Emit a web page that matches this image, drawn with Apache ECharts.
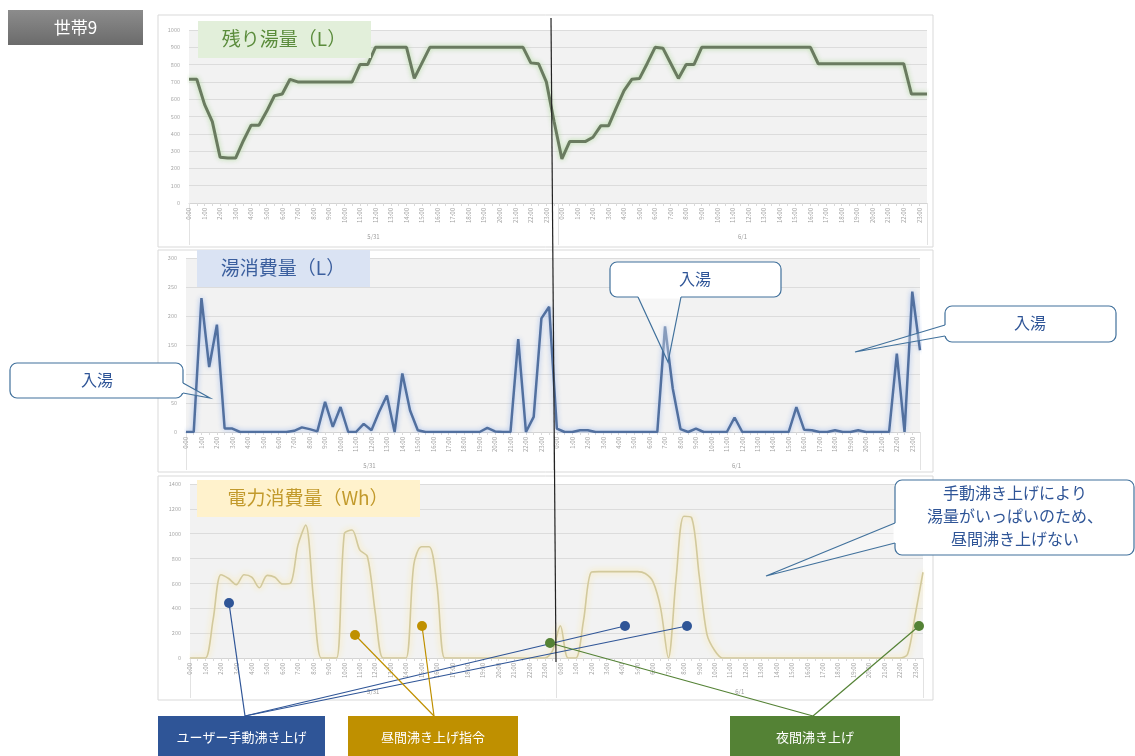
<!DOCTYPE html>
<html><head><meta charset="utf-8">
<script src="https://cdn.jsdelivr.net/npm/echarts@6/dist/echarts.min.js"></script>
<style>html,body{margin:0;padding:0;background:#fff}#c{width:1135px;height:756px}</style>
</head><body><div id="c"></div>
<script>
// ---- data ----
const times = ['0:00','0:30','1:00','1:30','2:00','2:30','3:00','3:30','4:00','4:30','5:00','5:30',
  '6:00','6:30','7:00','7:30','8:00','8:30','9:00','9:30','10:00','10:30','11:00','11:30',
  '12:00','12:30','13:00','13:30','14:00','14:30','15:00','15:30','16:00','16:30','17:00','17:30',
  '18:00','18:30','19:00','19:30','20:00','20:30','21:00','21:30','22:00','22:30','23:00','23:30'];
const days = ['5/31', '6/1'];
const categories = times.concat(times);

const remainingHotWater = [715,715,570,470,265,260,260,360,450,450,
  530,620,630,715,700,700,700,700,700,700,
  700,700,800,800,900,900,900,900,900,720,
  810,900,900,900,900,900,900,900,900,900,
  900,900,900,900,810,805,700,470,255,355,
  355,355,380,446,446,550,650,715,720,808,
  900,895,808,720,800,800,900,900,900,900,
  900,900,900,900,900,900,900,900,900,900,
  900,805,805,805,805,805,805,805,805,805,
  805,805,805,630,630,630];

const hotWaterUse = [0,0,231,112,185,6,6,0,0,0,
  0,0,0,0,2,8,5,1,52,9,
  43,0,0,14,3,35,63,0,101,37,
  3,0,0,0,0,0,0,0,0,7,
  1,0,0,160,0,26,196,216,6,0,
  0,3,3,0,0,0,0,0,0,0,
  0,0,182,75,5,0,6,0,0,0,
  0,25,0,0,0,0,0,0,0,43,
  4,3,0,0,3,0,0,3,0,0,
  0,0,135,0,242,141];

const powerUse = [0,0,0,310,670,640,590,670,650,565,
  665,650,595,600,910,1070,480,0,0,0,
  1000,1030,870,815,370,0,0,0,0,750,
  895,895,590,0,0,0,0,0,0,0,
  0,0,0,0,0,0,0,60,260,0,
  0,300,690,695,695,695,695,695,695,680,
  615,400,0,640,1140,1130,660,190,60,0,
  0,0,0,0,0,0,0,0,0,0,
  0,0,0,0,0,0,0,0,0,0,
  0,0,0,30,350,690];

const titles = ['残り湯量（L）', '湯消費量（L）', '電力消費量（Wh）'];
const householdLabel = '世帯9';
const calloutBath = '入湯';
const calloutManual = '手動沸き上げにより\n湯量がいっぱいのため、\n昼間沸き上げない';
const legendLabels = ['ユーザー手動沸き上げ', '昼間沸き上げ指令', '夜間沸き上げ'];

// ---- chart ----
const FONT = '"Noto Sans CJK JP", "Noto Sans", sans-serif';
const chart = echarts.init(document.getElementById('c'));

function catAxis(gi) {
  return {
    type: 'category', gridIndex: gi, data: categories, boundaryGap: false, position: 'bottom',
    axisLine: { lineStyle: { color: '#d4d4d4' } },
    axisTick: { show: true, interval: 0, length: 3, lineStyle: { color: '#d9d9d9' } },
    axisLabel: { interval: 1, rotate: 90, fontSize: 6, color: '#a2a2a2', margin: 5, fontFamily: FONT },
    splitLine: { show: false }
  };
}
function dateAxis(gi, len) {
  return {
    type: 'category', gridIndex: gi, data: days, boundaryGap: true, position: 'bottom',
    axisLine: { show: false },
    axisTick: { show: true, length: len, lineStyle: { color: '#e2e2e2' } },
    axisLabel: { fontSize: 6, color: '#9c9c9c', margin: 31, fontFamily: FONT },
    splitLine: { show: false }
  };
}
function valAxis(gi, max, interval) {
  return {
    type: 'value', gridIndex: gi, min: 0, max: max, interval: interval,
    axisLine: { show: false }, axisTick: { show: false },
    axisLabel: { fontSize: 5.5, color: '#a8a8a8', margin: 9, fontFamily: FONT,
      formatter: function (v) { return String(v); } },
    splitLine: { lineStyle: { color: '#dcdcdc', width: 1 } }
  };
}
const gridBg = { show: true, backgroundColor: '#f2f2f2', borderWidth: 0 };

// ---- annotations (graphic) ----
const BLUE = '#2f5597', CALLOUT = '#41719c';
function txt(x, y, text, size, color, extra) {
  return Object.assign({
    type: 'text', x: x, y: y, z: 110,
    style: { text: text, fill: color, font: 'normal ' + size + 'px ' + FONT,
      textAlign: 'center', textVerticalAlign: 'middle', align: 'center', verticalAlign: 'middle' }
  }, extra || {});
}
function callout(r, b1, b2, tip, text, tx, ty, size, lh) {
  const t = txt(tx, ty, text, size, BLUE);
  if (lh) t.style.lineHeight = lh;
  return [
    { type: 'rect', z: 100, shape: { x: r[0], y: r[1], width: r[2], height: r[3], r: 7 },
      style: { fill: '#fff', stroke: CALLOUT, lineWidth: 1.2 } },
    { type: 'line', z: 101, shape: { x1: b1[0], y1: b1[1], x2: b2[0], y2: b2[1] },
      style: { stroke: '#fff', lineWidth: 3 } },
    { type: 'polygon', z: 101, shape: { points: [b1, b2, tip] },
      style: { fill: 'rgba(255,255,255,0.3)' } },
    { type: 'polyline', z: 102, shape: { points: [b1, tip, b2] },
      style: { stroke: CALLOUT, lineWidth: 1.2, fill: 'none' } },
    t
  ];
}
function pointer(from, to, color) {
  return [
    { type: 'line', z: 100, shape: { x1: from[0], y1: from[1], x2: to[0], y2: to[1] },
      style: { stroke: color, lineWidth: 1.2 } },
    { type: 'circle', z: 101, shape: { cx: to[0], cy: to[1], r: 5 }, style: { fill: color } }
  ];
}

const graphics = [
  { type: 'rect', z: -100, shape: { x: 158, y: 15, width: 775, height: 232 }, style: { fill: '#fff', stroke: '#d9d9d9', lineWidth: 1 } },
  { type: 'rect', z: -100, shape: { x: 158, y: 250, width: 775, height: 222 }, style: { fill: '#fff', stroke: '#d9d9d9', lineWidth: 1 } },
  { type: 'rect', z: -100, shape: { x: 158, y: 476, width: 775, height: 224 }, style: { fill: '#fff', stroke: '#d9d9d9', lineWidth: 1 } },

  { type: 'rect', z: 100, shape: { x: 8, y: 10, width: 135, height: 35 },
    style: { fill: { type: 'linear', x: 0, y: 0, x2: 0, y2: 1, colorStops: [{ offset: 0, color: '#8c8c8c' }, { offset: 1, color: '#6b6b6b' }] } } },
  txt(75.5, 27.5, householdLabel, 17, '#ffffff'),

  { type: 'rect', z: 90, shape: { x: 198, y: 21, width: 173, height: 37 }, style: { fill: '#e2efda' } },
  txt(284, 39, titles[0], 19, '#5b8c3c'),
  { type: 'rect', z: 90, shape: { x: 197, y: 250, width: 173, height: 37 }, style: { fill: '#dae3f3' } },
  txt(283, 268, titles[1], 19, '#3b5f9e'),
  { type: 'rect', z: 90, shape: { x: 197, y: 480, width: 223, height: 37 }, style: { fill: '#fff2cc' } },
  txt(308, 498, titles[2], 19, '#c29a2c'),

  { type: 'line', z: 105, shape: { x1: 551, y1: 18, x2: 556, y2: 662 }, style: { stroke: '#222', lineWidth: 1.2 } },

  { type: 'rect', z: 100, shape: { x: 158, y: 716, width: 167, height: 40 }, style: { fill: '#2f5597' } },
  txt(241.5, 737, legendLabels[0], 13, '#ffffff'),
  { type: 'rect', z: 100, shape: { x: 348, y: 716, width: 170, height: 40 }, style: { fill: '#bf9000' } },
  txt(433, 737, legendLabels[1], 13, '#ffffff'),
  { type: 'rect', z: 100, shape: { x: 730, y: 716, width: 170, height: 40 }, style: { fill: '#548235' } },
  txt(815, 737, legendLabels[2], 13, '#ffffff')
].concat(
  callout([10, 363, 173, 35], [183, 383], [183, 393], [210, 398], calloutBath, 97, 380, 16),
  callout([610, 262, 171, 35], [638, 297], [681, 297], [668, 362], calloutBath, 695, 279, 16),
  callout([945, 306, 171, 36], [945, 325], [945, 336], [855, 352], calloutBath, 1030, 323, 16),
  callout([895, 480, 239, 75], [895, 523], [895, 543], [766, 576], calloutManual, 1015, 516, 16, 23),
  pointer([245, 716], [229, 603], '#2f5597'),
  pointer([245, 716], [625, 626], '#2f5597'),
  pointer([245, 716], [687, 626], '#2f5597'),
  pointer([434, 716], [355, 635], '#bf9000'),
  pointer([434, 716], [422, 626], '#bf9000'),
  pointer([813, 716], [550, 643], '#548235'),
  pointer([813, 716], [919, 626], '#548235')
);

const option = {
  animation: false,
  backgroundColor: '#ffffff',
  textStyle: { fontFamily: FONT },
  grid: [
    Object.assign({ left: 189, top: 30, width: 738, height: 173 }, gridBg),
    Object.assign({ left: 186, top: 258, width: 734, height: 174 }, gridBg),
    Object.assign({ left: 190, top: 484, width: 733, height: 174 }, gridBg)
  ],
  xAxis: [catAxis(0), catAxis(1), catAxis(2), dateAxis(0, 42), dateAxis(1, 38), dateAxis(2, 40)],
  yAxis: [valAxis(0, 1000, 100), valAxis(1, 300, 50), valAxis(2, 1400, 200)],
  series: [
    { type: 'line', xAxisIndex: 0, yAxisIndex: 0, data: remainingHotWater, symbol: 'none',
      lineStyle: { color: '#6a7b60', width: 3, shadowColor: 'rgba(170,215,150,0.9)', shadowBlur: 5 } },
    { type: 'line', xAxisIndex: 1, yAxisIndex: 1, data: hotWaterUse, symbol: 'none',
      lineStyle: { color: '#52709f', width: 2.5, shadowColor: 'rgba(150,180,235,0.9)', shadowBlur: 5 } },
    { type: 'line', xAxisIndex: 2, yAxisIndex: 2, data: powerUse, symbol: 'none', smooth: 0.3,
      lineStyle: { color: '#d2c99c', width: 1.6, shadowColor: 'rgba(255,228,140,1)', shadowBlur: 6 } }
  ],
  graphic: { elements: graphics }
};
chart.setOption(option);
</script>
</body></html>
